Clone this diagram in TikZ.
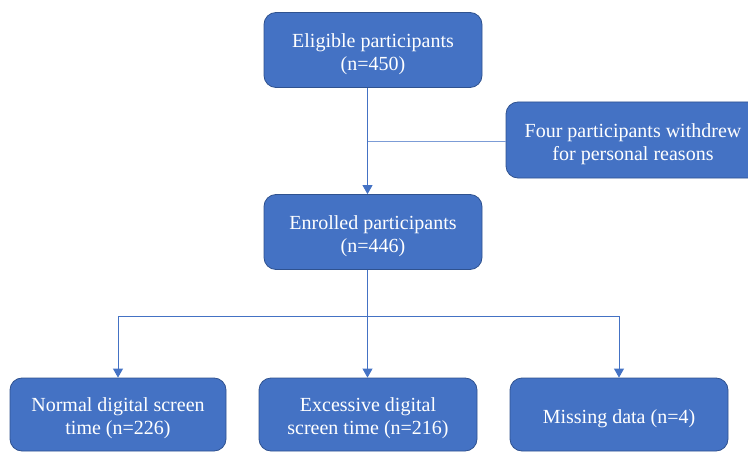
\documentclass[tikz,border=0pt]{standalone}
\usepackage{fontspec}
\setmainfont{Liberation Serif}
\newfontfamily\boxfont{Liberation Serif}
\usetikzlibrary{arrows.meta}
\definecolor{boxblue}{HTML}{4472C4}
\definecolor{boxedge}{HTML}{2F528F}
\newcommand{\lowtext}{\rule{0pt}{22pt}}

\begin{document}
\begin{tikzpicture}[x=1pt,y=-1pt,
  box/.style={draw=boxedge, fill=boxblue, rounded corners=12pt, text=white,
    align=center, minimum width=218pt, minimum height=75pt, inner sep=0pt,
    line width=0.8pt, font=\boxfont\fontsize{20}{23}\selectfont},
  link/.style={draw=boxblue, line width=0.9pt},
  >={Triangle[width=10pt,length=9pt]}]
\useasboundingbox (0,0) rectangle (748,452) ;
% boxes
\node [box] (eligible) at (373,50) {\lowtext Eligible participants\\(n=450)} ;
\node [box, minimum width=254pt, minimum height=76pt] (withdrew) at (633,140) {\lowtext Four participants withdrew\\for personal reasons} ;
\node [box] (enrolled) at (373,232) {\lowtext Enrolled participants\\(n=446)} ;
\node [box, minimum width=216pt, minimum height=73pt] (normal) at (118,414.5) {\lowtext Normal digital screen\\time (n=226)} ;
\node [box, minimum height=73pt] (excessive) at (368,414.5) {\lowtext Excessive digital\\screen time (n=216)} ;
\node [box, minimum height=73pt] (missing) at (619,414.5) {\lowtext Missing data (n=4)} ;
% connectors
\coordinate (trunk) at (367.5,0) ;
\coordinate (split) at (367.5,141) ;
\coordinate (fork) at (367.5,316) ;
\draw [link,->] (eligible.south -| trunk) -- (enrolled.north -| trunk) ;
\draw [link, line width=0.7pt, draw=boxblue!70] (split) -- (split -| withdrew.west) ;
\draw [link] (enrolled.south -| trunk) -- (fork) ;
\draw [link,->] (fork) -| (normal.north) ;
\draw [link,->] (fork) -- (fork |- excessive.north) ;
\draw [link,->] (fork) -| (missing.north) ;
\end{tikzpicture}
\end{document}
